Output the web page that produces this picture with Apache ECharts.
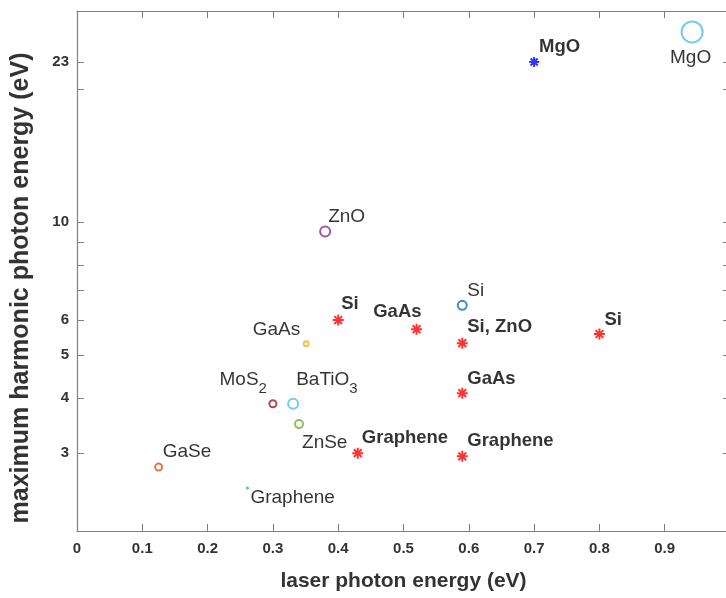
<!DOCTYPE html>
<html>
<head>
<meta charset="utf-8">
<script src="https://cdn.jsdelivr.net/npm/echarts@6/dist/echarts.min.js"></script>
<style>
html,body{margin:0;padding:0;background:#fff;}
#chart{width:726px;height:598px;}
</style>
</head>
<body>
<div id="chart"></div>
<script>
// ---- data ----
const xTickValues = [0, 0.1, 0.2, 0.3, 0.4, 0.5, 0.6, 0.7, 0.8, 0.9, 1];
const yTickLabelValues = [3, 4, 5, 6, 10, 23];
const yTickMarkValues = [2, 3, 4, 5, 6, 7, 8, 9, 10, 20, 23, 30];

// red asterisks (bold labels)
const starNames = ['Si', 'GaAs', 'Si, ZnO', 'Si', 'GaAs', 'Graphene', 'Graphene'];
const starX = [0.40, 0.52, 0.59, 0.80, 0.59, 0.43, 0.59];
const starY = [6.0, 5.72, 5.32, 5.58, 4.10, 3.0, 2.95];

// blue asterisk
const mgoNames = ['MgO'];
const mgoX = [0.70];
const mgoY = [23];

// open circles
const circleNames = ['ZnO', 'MgO', 'Si', 'GaAs', 'MoS2', 'BaTiO3', 'ZnSe', 'GaSe', 'Graphene'];
const circleX = [0.38, 0.942, 0.59, 0.351, 0.300, 0.331, 0.340, 0.125, 0.261];
const circleY = [9.51, 26.9, 6.48, 5.30, 3.88, 3.88, 3.49, 2.79, 2.50];

// ---- styles ----
const FONT = '"Liberation Sans", Arial, Helvetica, sans-serif';
const AXIS_COLOR = '#808080';
const TEXT_COLOR = '#333333';
const starLabelLayout = [
  {align: 'left', offset: [3, -16]},
  {align: 'right', offset: [5, -17]},
  {align: 'left', offset: [5, -16]},
  {align: 'left', offset: [5, -14]},
  {align: 'left', offset: [5, -14]},
  {align: 'left', offset: [4, -15]},
  {align: 'left', offset: [5, -15]}
];
const mgoLabelLayout = [{align: 'left', offset: [5, -15]}];
const circleColors = ['#7E2F8E', '#4DBEEE', '#0072BD', '#EDB120', '#A2142F', '#4DBEEE', '#77AC30', '#D95319', '#0072BD'];
const circleSizes = [10, 21, 9, 5, 7, 10, 8, 7, 2];
const circleLabelLayout = [
  {align: 'left', offset: [3, -15]},
  {align: 'center', offset: [-1.5, 26]},
  {align: 'left', offset: [5, -15]},
  {align: 'right', offset: [-6, -14]},
  {align: 'right', offset: [-6, -24]},
  {align: 'left', offset: [3, -24]},
  {align: 'left', offset: [3, 19]},
  {align: 'left', offset: [4, -15]},
  {align: 'left', offset: [3, 10]}
];
const subscriptNames = {MoS2: '{n|MoS}{s|2}', BaTiO3: '{n|BaTiO}{s|3}'};

const asteriskPath = 'path://M0,-5L0,5M-5,0L5,0M-3.54,-3.54L3.54,3.54M-3.54,3.54L3.54,-3.54';

function starItems(names, xs, ys, layout) {
  return names.map((n, i) => ({
    value: [xs[i], ys[i]],
    name: n,
    label: {
      show: true, position: 'inside', formatter: n,
      align: layout[i].align, verticalAlign: 'middle', offset: layout[i].offset,
      color: '#000', fontWeight: 'bold', fontSize: 18.5, fontFamily: FONT
    }
  }));
}

const circleItems = circleNames.map((n, i) => ({
  value: [circleX[i], circleY[i]],
  name: n,
  symbolSize: circleSizes[i],
  itemStyle: {color: '#fff', borderColor: circleColors[i], borderWidth: i === 8 ? 1 : 2},
  label: {
    show: true, position: 'inside',
    formatter: subscriptNames[n] || n,
    align: circleLabelLayout[i].align, verticalAlign: 'middle', offset: circleLabelLayout[i].offset,
    color: '#000', fontSize: 19, fontFamily: FONT,
    rich: {
      n: {fontSize: 19, color: '#000', fontFamily: FONT},
      s: {fontSize: 15, color: '#000', fontFamily: FONT, padding: [19, 0, 0, 0]}
    }
  }
}));

const chart = echarts.init(document.getElementById('chart'), null, {renderer: 'canvas'});

const axisLineStyle = {show: true, onZero: false, lineStyle: {color: AXIS_COLOR, width: 1.2}};
const tickStyle = {show: true, inside: true, length: 7, lineStyle: {color: AXIS_COLOR}};

chart.setOption({
  animation: false,
  backgroundColor: '#fff',
  grid: {left: 77, top: 11, width: 653, height: 520, outerBoundsMode: 'none', containLabel: false},
  xAxis: [{
    type: 'value', min: 0, max: 1, interval: 0.1, position: 'bottom',
    axisLine: axisLineStyle,
    axisTick: tickStyle,
    axisLabel: {
      customValues: xTickValues, showMaxLabel: true, showMinLabel: true,
      fontWeight: 'bold', fontSize: 15, color: TEXT_COLOR, margin: 10, fontFamily: FONT
    },
    splitLine: {show: false},
    name: 'laser photon energy (eV)', nameLocation: 'middle', nameGap: 40,
    nameTextStyle: {fontWeight: 'bold', fontSize: 21, color: TEXT_COLOR, fontFamily: FONT}
  }, {
    type: 'value', min: 0, max: 1, interval: 0.1, position: 'top',
    axisLine: axisLineStyle,
    axisTick: tickStyle,
    axisLabel: {show: false},
    splitLine: {show: false}
  }],
  yAxis: [{
    type: 'log', logBase: 10, min: 2, max: 30, position: 'left',
    axisLine: axisLineStyle,
    axisTick: Object.assign({customValues: yTickMarkValues}, tickStyle),
    axisLabel: {
      customValues: yTickLabelValues,
      fontWeight: 'bold', fontSize: 15, color: TEXT_COLOR, margin: 8, fontFamily: FONT
    },
    minorTick: {show: false},
    splitLine: {show: false},
    name: 'maximum harmonic photon energy (eV)', nameLocation: 'middle', nameGap: 43,
    nameTextStyle: {fontWeight: 'bold', fontSize: 25, color: TEXT_COLOR, fontFamily: FONT, padding: [0, 34, 0, 0]}
  }, {
    type: 'log', logBase: 10, min: 2, max: 30, position: 'right',
    axisLine: axisLineStyle,
    axisTick: Object.assign({customValues: yTickMarkValues}, tickStyle),
    axisLabel: {show: false},
    minorTick: {show: false},
    splitLine: {show: false}
  }],
  series: [{
    name: 'circles', type: 'scatter', xAxisIndex: 0, yAxisIndex: 0,
    symbol: 'circle',
    data: circleItems
  }, {
    name: 'red', type: 'scatter', xAxisIndex: 0, yAxisIndex: 0,
    symbol: asteriskPath, symbolSize: 11,
    itemStyle: {color: 'none', borderColor: '#FF0000', borderWidth: 2},
    data: starItems(starNames, starX, starY, starLabelLayout)
  }, {
    name: 'blue', type: 'scatter', xAxisIndex: 0, yAxisIndex: 0,
    symbol: asteriskPath, symbolSize: 10,
    itemStyle: {color: 'none', borderColor: '#0000FF', borderWidth: 2},
    data: starItems(mgoNames, mgoX, mgoY, mgoLabelLayout)
  }]
});
</script>
</body>
</html>
